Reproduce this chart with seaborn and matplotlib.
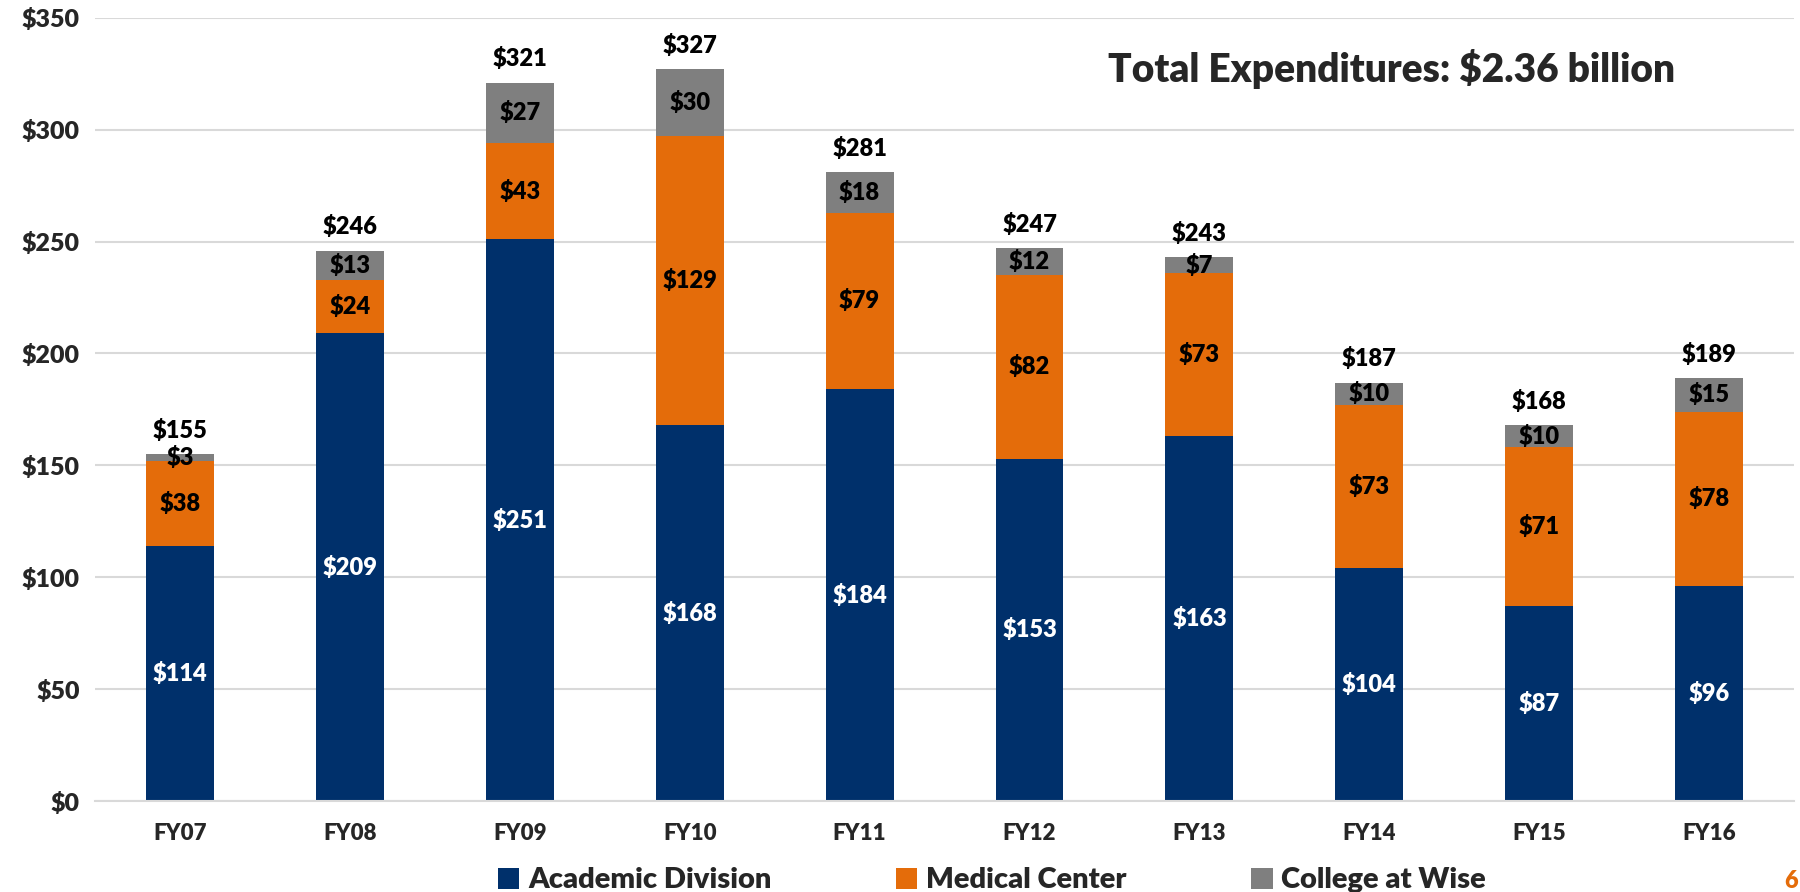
"""
Stacked bar chart: expenditures by division, FY07-FY16.
"""
import matplotlib

matplotlib.use("Agg")
import matplotlib.pyplot as plt
from matplotlib.patches import Patch
import numpy as np
import pandas as pd
import seaborn as sns

years = ["FY07", "FY08", "FY09", "FY10", "FY11", "FY12", "FY13", "FY14", "FY15", "FY16"]
academic = [114, 209, 251, 168, 184, 153, 163, 104, 87, 96]
medical = [38, 24, 43, 129, 79, 82, 73, 73, 71, 78]
wise = [3, 13, 27, 30, 18, 12, 7, 10, 10, 15]
totals = [155, 246, 321, 327, 281, 247, 243, 187, 168, 189]
y_ticks = [0, 50, 100, 150, 200, 250, 300, 350]
series_names = ["Academic Division", "Medical Center", "College at Wise"]
colors = ["#00306B", "#E46C0A", "#7F7F7F"]
headline = "Total Expenditures: $2.36 billion"

sns.set_theme(style="white")
plt.rcParams["font.family"] = ["Lato", "DejaVu Sans"]

df = pd.DataFrame({"Year": years, "Academic": academic, "Medical": medical, "Wise": wise})

fig = plt.figure(figsize=(18, 8.92), dpi=100)
ax = fig.add_axes([0.0528, 0.102, 0.9439, 0.878])

bottom = np.zeros(len(years))
label_colors = ["white", "black", "black"]
for col, color, lc in zip(["Academic", "Medical", "Wise"], colors, label_colors):
    sns.barplot(data=df, x="Year", y=col, color=color, saturation=1, width=0.4,
                bottom=bottom, edgecolor="none", linewidth=0, ax=ax)
    cont = ax.containers[-1]
    ax.bar_label(cont, labels=[f"${v}" for v in df[col]], label_type="center",
                 color=lc, fontsize=17, fontweight="heavy")
    bottom = bottom + df[col].to_numpy()

for i, t in enumerate(totals):
    ax.annotate(f"${t}", (i, t), xytext=(0, 9), textcoords="offset points",
                ha="center", va="bottom", fontsize=17, fontweight="heavy", color="black")

ax.set_xlim(-0.5, len(years) - 0.5)
ax.set_ylim(0, 350)
ax.set_yticks(y_ticks)
ax.set_yticklabels([f"${v}" for v in y_ticks])
ax.yaxis.grid(True, color="#D9D9D9", linewidth=1.5)
ax.set_axisbelow(True)
for s in ["top", "right", "left"]:
    ax.spines[s].set_visible(False)
ax.spines["bottom"].set_color("#D9D9D9")
ax.spines["bottom"].set_linewidth(1.5)
ax.set_xlabel("")
ax.set_ylabel("")
ax.tick_params(axis="y", length=0, pad=11, labelsize=18)
ax.tick_params(axis="x", length=0, pad=16, labelsize=16)
for lab in ax.get_xticklabels() + ax.get_yticklabels():
    lab.set_fontweight("heavy")

ax.text(0.763, 0.935, headline, transform=ax.transAxes, ha="center", va="center",
        fontsize=28, fontweight="heavy")

handles = [Patch(facecolor=c, edgecolor="none") for c in colors]
fig.legend(handles, series_names, loc="center", bbox_to_anchor=(0.551, 0.013), ncol=3,
           frameon=False, handlelength=0.75, handleheight=0.75, handletextpad=0.3,
           columnspacing=4.25, prop={"weight": "heavy", "size": 21})

fig.text(0.999, 0.0, "6", color="#E46C0A", fontsize=17, fontweight="heavy",
         ha="right", va="bottom")

fig.savefig("out.png", dpi=100)
